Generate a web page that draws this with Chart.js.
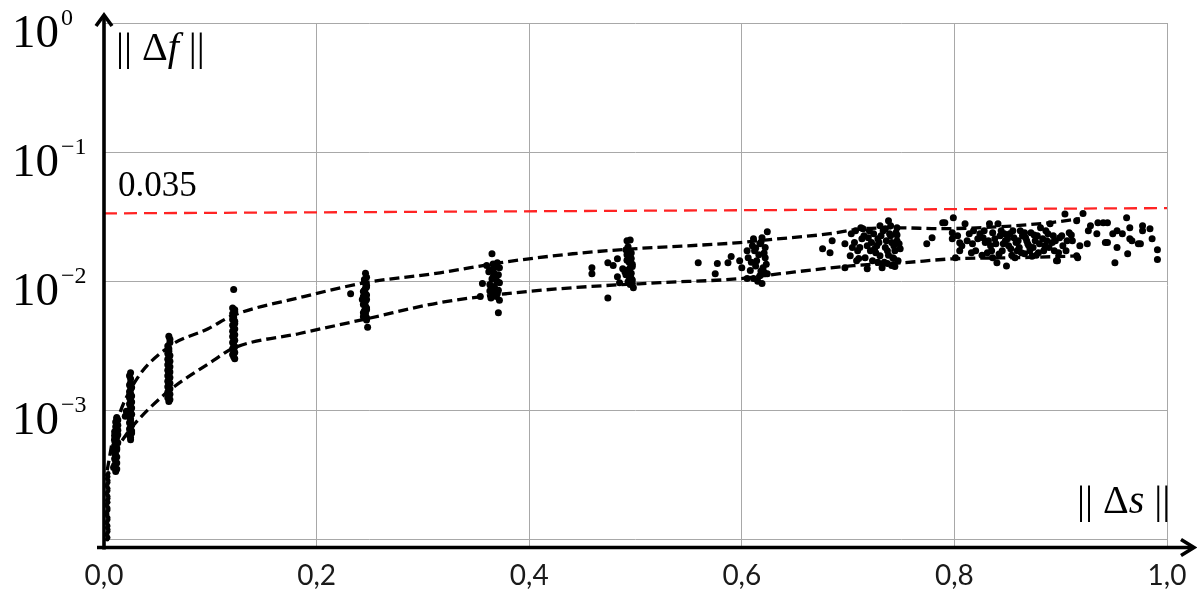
<!DOCTYPE html>
<html>
<head>
<meta charset="utf-8">
<script src="https://cdn.jsdelivr.net/npm/chart.js@4.4.1/dist/chart.umd.min.js"></script>
<style>
  html, body { margin: 0; padding: 0; background: #fff; }
  #wrap { width: 1197px; height: 595px; position: relative; }
</style>
</head>
<body>
<div id="wrap"><canvas id="myChart"></canvas></div>
<script>
// tick labels
const xTickValues = [0, 0.2, 0.4, 0.6, 0.8, 1.0];
const xTickLabels = ['0,0', '0,2', '0,4', '0,6', '0,8', '1,0'];
const yGridValues = [1, 0.1, 0.01, 0.001, 0.0001];
const yLabelValues = [1, 0.1, 0.01, 0.001];
const yLabelExponents = ['0', '\u22121', '\u22122', '\u22123'];

// threshold line (0.035)
const thresholdX = [0, 1];
const thresholdY = [0.0335, 0.0368];

// dashed envelopes
const upperX = [0.003, 0.010, 0.026, 0.060, 0.098, 0.121, 0.184, 0.246, 0.316, 0.373, 0.441, 0.498, 0.598, 0.624, 0.683, 0.714, 0.749, 0.786, 0.843, 0.890, 0.918];
const upperY = [3.42e-4, 6.97e-4, 1.50e-3, 3.06e-3, 4.28e-3, 5.41e-3, 7.45e-3, 9.73e-3, 0.0116, 0.0139, 0.0163, 0.0178, 0.0199, 0.0209, 0.0233, 0.0255, 0.0259, 0.0255, 0.0264, 0.0284, 0.0305];
const lowerX = [0.017, 0.026, 0.059, 0.103, 0.121, 0.184, 0.248, 0.316, 0.379, 0.441, 0.523, 0.598, 0.636, 0.705, 0.752, 0.799, 0.859, 0.918];
const lowerY = [5.83e-4, 7.36e-4, 1.37e-3, 2.43e-3, 3.01e-3, 3.93e-3, 5.13e-3, 6.82e-3, 8.0e-3, 8.9e-3, 9.73e-3, 0.01045, 0.01142, 0.01318, 0.0139, 0.0149, 0.0152, 0.0157];

// measured points, grouped by step size
const pointsZero = [[0.003,1.0e-4],[0.003,1.07e-4],[0.004,1.15e-4],[0.003,1.23e-4],[0.003,1.32e-4],[0.004,1.42e-4],[0.003,1.52e-4],[0.003,1.63e-4],[0.004,1.75e-4],[0.003,1.88e-4],[0.003,2.0e-4],[0.004,2.15e-4],[0.003,2.3e-4],[0.004,2.47e-4],[0.003,2.65e-4],[0.004,2.85e-4],[0.004,3.05e-4],[0.004,3.25e-4],[0.004,1.03e-4],[0.003,1.11e-4],[0.004,1.19e-4],[0.004,1.27e-4],[0.003,1.37e-4],[0.004,1.47e-4],[0.003,1.57e-4],[0.004,1.69e-4],[0.003,1.81e-4],[0.004,1.94e-4],[0.004,2.07e-4],[0.003,2.22e-4],[0.004,2.38e-4],[0.003,2.56e-4],[0.004,2.75e-4],[0.003,2.95e-4],[0.003,3.15e-4]];
const points01 = [[0.011,3.35e-4],[0.009,3.6e-4],[0.012,3.9e-4],[0.010,4.2e-4],[0.011,4.5e-4],[0.009,4.8e-4],[0.012,5.1e-4],[0.011,5.45e-4],[0.010,5.8e-4],[0.012,6.2e-4],[0.011,6.6e-4],[0.013,7.0e-4],[0.011,7.45e-4],[0.012,7.9e-4],[0.013,8.4e-4],[0.012,8.8e-4],[0.010,6.4e-4],[0.013,5.6e-4],[0.012,3.5e-4],[0.010,3.75e-4],[0.011,4.05e-4],[0.012,4.35e-4],[0.010,4.65e-4],[0.012,4.95e-4],[0.010,5.3e-4],[0.012,5.7e-4],[0.011,6.0e-4],[0.013,6.45e-4],[0.010,6.8e-4],[0.012,7.2e-4],[0.013,7.65e-4],[0.011,8.1e-4],[0.012,8.6e-4]];
const points02 = [[0.025,5.9e-4],[0.024,6.4e-4],[0.026,6.9e-4],[0.025,7.4e-4],[0.024,8.0e-4],[0.025,8.6e-4],[0.020,9.0e-4],[0.026,9.3e-4],[0.021,9.8e-4],[0.024,1.0e-3],[0.025,1.08e-3],[0.026,1.16e-3],[0.024,1.25e-3],[0.025,1.34e-3],[0.025,1.45e-3],[0.024,1.57e-3],[0.025,1.75e-3],[0.025,1.95e-3],[0.025,6.15e-4],[0.026,6.65e-4],[0.024,7.15e-4],[0.026,7.7e-4],[0.025,8.3e-4],[0.024,8.9e-4],[0.022,9.4e-4],[0.025,9.7e-4],[0.026,1.04e-3],[0.024,1.12e-3],[0.025,1.2e-3],[0.026,1.29e-3],[0.024,1.39e-3],[0.026,1.5e-3],[0.025,1.63e-3],[0.024,1.85e-3]];
const points06 = [[0.061,1.17e-3],[0.060,1.25e-3],[0.062,1.33e-3],[0.061,1.42e-3],[0.060,1.52e-3],[0.062,1.62e-3],[0.061,1.73e-3],[0.060,1.85e-3],[0.062,1.98e-3],[0.061,2.1e-3],[0.060,2.25e-3],[0.062,2.4e-3],[0.061,2.55e-3],[0.060,2.75e-3],[0.061,3.0e-3],[0.062,3.35e-3],[0.061,3.75e-3],[0.062,1.21e-3],[0.061,1.29e-3],[0.060,1.38e-3],[0.062,1.47e-3],[0.061,1.57e-3],[0.060,1.68e-3],[0.062,1.79e-3],[0.061,1.91e-3],[0.060,2.04e-3],[0.062,2.17e-3],[0.061,2.33e-3],[0.060,2.48e-3],[0.062,2.65e-3],[0.061,2.87e-3],[0.060,3.15e-3],[0.062,3.55e-3]];
const points12 = [[0.122,8.6e-3],[0.121,6.2e-3],[0.123,5.8e-3],[0.122,5.4e-3],[0.121,5.05e-3],[0.123,4.7e-3],[0.122,4.4e-3],[0.121,4.1e-3],[0.123,3.85e-3],[0.122,3.6e-3],[0.121,3.35e-3],[0.123,3.1e-3],[0.122,2.9e-3],[0.121,2.7e-3],[0.123,2.5e-3],[0.123,6.0e-3],[0.121,5.6e-3],[0.122,5.2e-3],[0.123,4.9e-3],[0.121,4.55e-3],[0.123,4.25e-3],[0.122,3.95e-3],[0.121,3.72e-3],[0.123,3.48e-3],[0.122,3.22e-3],[0.121,3.0e-3],[0.123,2.8e-3],[0.122,2.6e-3]];
const points25 = [[0.246,0.0115],[0.247,0.0107],[0.245,0.0099],[0.247,0.0093],[0.246,0.0088],[0.244,0.0083],[0.247,0.0078],[0.245,0.0074],[0.246,0.0070],[0.244,0.0066],[0.247,0.0062],[0.245,0.0059],[0.246,0.0056],[0.244,0.0053],[0.247,0.0050],[0.248,0.0044],[0.232,0.0080],[0.243,0.0072],[0.245,0.0103],[0.246,0.0096],[0.247,0.0090],[0.245,0.0085],[0.246,0.0080],[0.244,0.0076],[0.247,0.0072],[0.245,0.0068],[0.246,0.0064],[0.247,0.0060],[0.244,0.0057],[0.245,0.0055],[0.247,0.0052]];
const points37 = [[0.360,0.0132],[0.363,0.0121],[0.370,0.0139],[0.372,0.0127],[0.356,0.0096],[0.366,0.0107],[0.372,0.0097],[0.363,0.0084],[0.370,0.0080],[0.354,0.0076],[0.372,0.0071],[0.371,0.0057],[0.365,0.0163],[0.367,0.0115],[0.369,0.0102],[0.364,0.0090],[0.368,0.0087],[0.371,0.0112],[0.366,0.0125],[0.368,0.0078],[0.366,0.0136],[0.369,0.0129],[0.362,0.0118],[0.368,0.0110],[0.365,0.0104],[0.370,0.0099],[0.363,0.0094],[0.367,0.0091],[0.371,0.0085],[0.366,0.0082],[0.369,0.0076],[0.364,0.0074]];
const points49 = [[0.495,0.0208],[0.459,0.0127],[0.459,0.0114],[0.474,0.0139],[0.483,0.0149],[0.479,0.0132],[0.483,0.0108],[0.485,0.0097],[0.474,0.0074],[0.492,0.0206],[0.497,0.0096],[0.498,0.0089],[0.493,0.0185],[0.495,0.0170],[0.492,0.0160],[0.496,0.0150],[0.494,0.0140],[0.497,0.0130],[0.493,0.0122],[0.496,0.0115],[0.494,0.0108],[0.497,0.0102],[0.490,0.0118],[0.488,0.0125],[0.491,0.0175],[0.496,0.0165],[0.494,0.0155],[0.492,0.0145],[0.497,0.0135],[0.495,0.0127],[0.491,0.0112],[0.496,0.0105],[0.493,0.0099],[0.495,0.0094]];
const points61 = [[0.559,0.0139],[0.575,0.0114],[0.577,0.0137],[0.587,0.0139],[0.590,0.0155],[0.598,0.0144],[0.600,0.0127],[0.605,0.0105],[0.608,0.0121],[0.611,0.0213],[0.612,0.0172],[0.617,0.0195],[0.619,0.0096],[0.624,0.0241],[0.622,0.0152],[0.620,0.0127],[0.614,0.0144],[0.619,0.0217],[0.624,0.0114],[0.617,0.0110],[0.605,0.0172],[0.610,0.0188],[0.606,0.0152],[0.622,0.0182],[0.611,0.0105],[0.618,0.0200],[0.613,0.0180],[0.621,0.0165],[0.616,0.0160],[0.609,0.0140],[0.623,0.0135],[0.613,0.0131],[0.618,0.0120],[0.621,0.0117],[0.615,0.0100]];
const points74 = [[0.676,0.0178],[0.685,0.0206],[0.683,0.0166],[0.697,0.0195],[0.702,0.0157],[0.708,0.0144],[0.697,0.0127],[0.714,0.0255],[0.713,0.0213],[0.711,0.0182],[0.721,0.0172],[0.723,0.0144],[0.730,0.0269],[0.728,0.0213],[0.738,0.0294],[0.739,0.0233],[0.735,0.0182],[0.737,0.0137],[0.742,0.0152],[0.746,0.0259],[0.746,0.0206],[0.744,0.0172],[0.741,0.0132],[0.732,0.0127],[0.718,0.0125],[0.730,0.0157],[0.722,0.0199],[0.727,0.0188],[0.703,0.0233],[0.706,0.0199],[0.709,0.0172],[0.712,0.0259],[0.716,0.0152],[0.719,0.0217],[0.724,0.0233],[0.726,0.0166],[0.729,0.0199],[0.733,0.0246],[0.736,0.0206],[0.738,0.0159],[0.740,0.0225],[0.743,0.0188],[0.745,0.0237],[0.747,0.0144],[0.748,0.0195],[0.734,0.0140],[0.744,0.0130],[0.740,0.0269],[0.774,0.0195],[0.779,0.0217],[0.789,0.0284],[0.799,0.0310],[0.801,0.0152],[0.798,0.0213],[0.805,0.0172],[0.704,0.0182],[0.707,0.0246],[0.710,0.0150],[0.715,0.0225],[0.718,0.0188],[0.720,0.0246],[0.725,0.0178],[0.728,0.0140],[0.731,0.0225],[0.735,0.0255],[0.737,0.0172],[0.741,0.0199],[0.743,0.0150],[0.746,0.0228],[0.749,0.0178]];
const pointsFar = [[0.791,0.0284],[0.798,0.0237],[0.805,0.0198],[0.810,0.0279],[0.817,0.0195],[0.827,0.0217],[0.831,0.0166],[0.833,0.0279],[0.836,0.0237],[0.840,0.0139],[0.841,0.0279],[0.846,0.0195],[0.849,0.0131],[0.852,0.0233],[0.859,0.0172],[0.862,0.0246],[0.868,0.0206],[0.871,0.0172],[0.878,0.0225],[0.881,0.0259],[0.887,0.0206],[0.890,0.0279],[0.897,0.0144],[0.904,0.0332],[0.906,0.0206],[0.915,0.0157],[0.915,0.0294],[0.921,0.0335],[0.925,0.0195],[0.928,0.0269],[0.934,0.0233],[0.940,0.0284],[0.942,0.0199],[0.949,0.0233],[0.951,0.0139],[0.958,0.0233],[0.962,0.0310],[0.963,0.0163],[0.965,0.0259],[0.967,0.0206],[0.975,0.0195],[0.977,0.0269],[0.977,0.0246],[0.984,0.0255],[0.986,0.0213],[0.991,0.0175],[0.991,0.0147],[0.911,0.0206],[0.918,0.0188],[0.926,0.0246],[0.935,0.0284],[0.944,0.0284],[0.944,0.0199],[0.953,0.0246],[0.953,0.0182],[0.965,0.0213],[0.973,0.0195],[0.916,0.0152],[0.896,0.0144],[0.824,0.0233],[0.829,0.0199],[0.834,0.0188],[0.838,0.0213],[0.843,0.0225],[0.845,0.0172],[0.848,0.0206],[0.851,0.0188],[0.854,0.0159],[0.856,0.0217],[0.858,0.0199],[0.861,0.0182],[0.864,0.0225],[0.866,0.0163],[0.869,0.0195],[0.872,0.0237],[0.874,0.0182],[0.876,0.0206],[0.879,0.0166],[0.883,0.0213],[0.885,0.0188],[0.888,0.0233],[0.892,0.0199],[0.894,0.0172],[0.899,0.0217],[0.902,0.0188],[0.908,0.0237],[0.812,0.0206],[0.818,0.0246],[0.820,0.0172],[0.826,0.0159],[0.836,0.0152],[0.844,0.0246],[0.857,0.0152],[0.866,0.0237],[0.873,0.0156],[0.803,0.0225],[0.807,0.0188],[0.814,0.0233],[0.816,0.0166],[0.822,0.0213],[0.828,0.0246],[0.832,0.0206],[0.835,0.0172],[0.839,0.0195],[0.842,0.0162],[0.847,0.0233],[0.850,0.0213],[0.853,0.0178],[0.855,0.0246],[0.860,0.0206],[0.863,0.0166],[0.867,0.0217],[0.870,0.0188],[0.875,0.0228],[0.877,0.0159],[0.880,0.0195],[0.884,0.0172],[0.886,0.0246],[0.889,0.0182],[0.893,0.0225],[0.895,0.0206],[0.898,0.0166],[0.901,0.0225],[0.905,0.0172],[0.910,0.0228]];

const toXY = (xs, ys) => xs.map((x, i) => ({ x, y: ys[i] }));
const pairs = (arr) => arr.map(p => ({ x: p[0], y: p[1] }));

const allPoints = [].concat(points01, points02, points06, points12, points25, points37, points49, points61, points74, pointsFar);

const serif = '"Liberation Serif", "Times New Roman", Tinos, serif';

const decorations = {
	id: 'decorations',
	afterDraw(chart) {
		const ctx = chart.ctx;
		const xs = chart.scales.x;
		const ys = chart.scales.y;
		const x0 = xs.getPixelForValue(0);
		const yb = chart.chartArea.bottom;
		ctx.save();
		ctx.strokeStyle = '#000';
		ctx.lineWidth = 3.6;
		ctx.lineCap = 'butt';
		// vertical axis with arrow
		ctx.beginPath();
		ctx.moveTo(x0, yb + 2);
		ctx.lineTo(x0, 15);
		ctx.stroke();
		ctx.beginPath();
		ctx.moveTo(x0 - 8, 26);
		ctx.lineTo(x0, 15);
		ctx.lineTo(x0 + 8, 26);
		ctx.stroke();
		// horizontal axis with arrow
		ctx.beginPath();
		ctx.moveTo(x0 - 7, yb);
		ctx.lineTo(1193, yb);
		ctx.stroke();
		ctx.beginPath();
		ctx.moveTo(1181, yb - 8);
		ctx.lineTo(1194, yb);
		ctx.lineTo(1181, yb + 8);
		ctx.stroke();

		// y labels 10^n
		ctx.fillStyle = '#000';
		yLabelValues.forEach((v, i) => {
			const py = ys.getPixelForValue(v);
			ctx.font = '47px ' + serif;
			ctx.textAlign = 'right';
			ctx.textBaseline = 'alphabetic';
			ctx.fillText('10', 59, py + 24);
			ctx.font = '24px ' + serif;
			ctx.textAlign = 'left';
			ctx.fillText(yLabelExponents[i], 61, py + 2);
		});

		// x labels
		ctx.font = '28px Lato, "Liberation Sans", sans-serif';
		ctx.fillStyle = '#1a1a1a';
		ctx.textAlign = 'center';
		xTickValues.forEach((v, i) => {
			ctx.fillText(xTickLabels[i], xs.getPixelForValue(v), 585);
		});

		// axis titles
		const title = (x, y, parts) => {
			ctx.textAlign = 'left';
			ctx.fillStyle = '#000';
			let cx = x;
			parts.forEach(p => {
				ctx.font = (p[1] ? 'italic ' : '') + '40px ' + serif;
				ctx.fillText(p[0], cx, y);
				cx += ctx.measureText(p[0]).width;
			});
		};
		title(116, 60, [['|| \u0394', false], ['f', true], [' ||', false]]);
		title(1077, 513, [['|| \u0394', false], ['s', true], [' ||', false]]);

		// threshold label
		ctx.font = '35px ' + serif;
		ctx.fillText('0.035', 118, 196);
		ctx.restore();
	},
};

new Chart(document.getElementById('myChart'), {
	type: 'scatter',
	data: {
		datasets: [
			{
				type: 'line',
				data: toXY(thresholdX, thresholdY),
				borderColor: 'rgb(255, 35, 35)',
				borderWidth: 2.3,
				borderDash: [13, 7],
				pointRadius: 0,
				order: 0,
			},
			{
				type: 'line',
				data: toXY(upperX, upperY),
				borderColor: '#000',
				borderWidth: 3.3,
				borderDash: [10, 5],
				pointRadius: 0,
				cubicInterpolationMode: 'monotone',
				order: 1,
			},
			{
				type: 'line',
				data: toXY(lowerX, lowerY),
				borderColor: '#000',
				borderWidth: 3.3,
				borderDash: [10, 5],
				pointRadius: 0,
				cubicInterpolationMode: 'monotone',
				order: 1,
			},
			{
				data: pairs(allPoints),
				backgroundColor: '#000',
				borderWidth: 0,
				pointRadius: 3.5,
				order: 2,
			},
			{
				data: pairs(pointsZero),
				backgroundColor: '#000',
				borderWidth: 0,
				pointRadius: 2.3,
				order: 2,
			},
		],
	},
	options: {
		responsive: true,
		maintainAspectRatio: false,
		animation: false,
		layout: { padding: { left: 104, right: 30, top: 23, bottom: 47.5 } },
		plugins: { legend: { display: false }, tooltip: { enabled: false } },
		scales: {
			x: {
				type: 'linear',
				min: 0,
				max: 1,
				afterBuildTicks: (scale) => { scale.ticks = xTickValues.map(v => ({ value: v })); },
				ticks: { display: false },
				grid: { color: '#a8a8a8', lineWidth: 1, drawTicks: false },
				border: { display: false },
			},
			y: {
				type: 'logarithmic',
				min: 8.64e-5,
				max: 1,
				afterBuildTicks: (scale) => { scale.ticks = yGridValues.map(v => ({ value: v })); },
				ticks: { display: false },
				grid: { color: '#a8a8a8', lineWidth: 1, drawTicks: false },
				border: { display: false },
			},
		},
	},
	plugins: [decorations],
});
</script>
</body>
</html>
